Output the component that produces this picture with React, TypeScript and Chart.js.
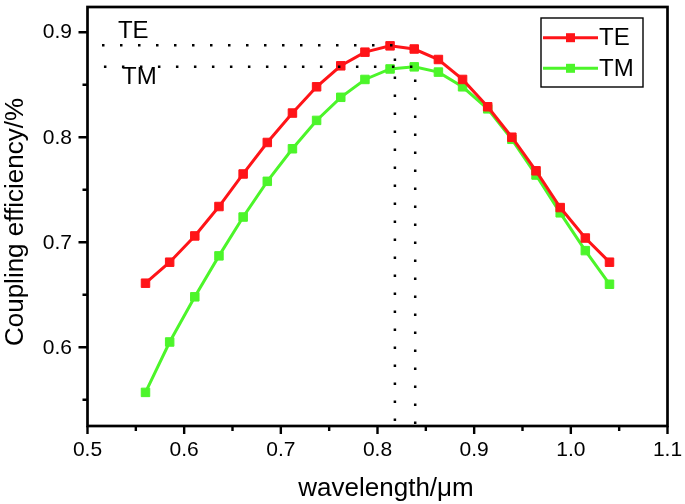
import React, { useEffect, useRef } from 'react';
import { Chart, registerables } from 'chart.js';

Chart.register(...registerables);

// ---- data ----
const wavelength = [0.560, 0.585, 0.611, 0.636, 0.661, 0.686, 0.712, 0.737, 0.762, 0.787, 0.813, 0.838, 0.863, 0.888, 0.914, 0.939, 0.964, 0.989, 1.015, 1.040];
const teEfficiency = [0.661, 0.681, 0.706, 0.734, 0.765, 0.795, 0.823, 0.848, 0.868, 0.881, 0.887, 0.884, 0.874, 0.855, 0.829, 0.800, 0.768, 0.733, 0.704, 0.681];
const tmEfficiency = [0.557, 0.605, 0.648, 0.687, 0.724, 0.758, 0.789, 0.816, 0.838, 0.855, 0.865, 0.867, 0.862, 0.848, 0.827, 0.798, 0.764, 0.728, 0.692, 0.660];
const seriesLabels = ['TE', 'TM'];
const seriesColors = ['#ff1418', '#4cf52a'];

// peak guide lines (TE, TM)
const peakWavelength = [0.818, 0.839];
const peakEfficiency = [0.8875, 0.867];
const guideStart = [0.515, 0.517];
// in-plot annotation labels (TE, TM)
const noteX = [0.5315, 0.5357];
const noteY = [0.9007, 0.8574];

const xMajorTicks = [0.5, 0.6, 0.7, 0.8, 0.9, 1.0, 1.1];
const xMinorTicks = [0.55, 0.65, 0.75, 0.85, 0.95, 1.05];
const yMajorTicks = [0.6, 0.7, 0.8, 0.9];
const yMinorTicks = [0.55, 0.65, 0.75, 0.85];
const xRange = [0.5, 1.1];
const yRange = [0.525, 0.924];
const xTitle = 'wavelength/μm';
const yTitle = 'Coupling efficiency/%';

const FONT = 'Arial, "Liberation Sans", sans-serif';

const decorPlugin = {
  id: 'decor',
  afterDraw(chart: any) {
    const { ctx, chartArea: a, scales } = chart;
    const xs = scales.x;
    const ys = scales.y;
    ctx.save();
    // frame
    ctx.strokeStyle = '#000';
    ctx.lineWidth = 2.7;
    ctx.strokeRect(a.left, a.top, a.right - a.left, a.bottom - a.top);
    // ticks
    ctx.lineWidth = 2.4;
    ctx.beginPath();
    xMajorTicks.forEach((v) => {
      const px = xs.getPixelForValue(v);
      ctx.moveTo(px, a.bottom);
      ctx.lineTo(px, a.bottom + 8);
    });
    xMinorTicks.forEach((v) => {
      const px = xs.getPixelForValue(v);
      ctx.moveTo(px, a.bottom);
      ctx.lineTo(px, a.bottom + 5);
    });
    yMajorTicks.forEach((v) => {
      const py = ys.getPixelForValue(v);
      ctx.moveTo(a.left, py);
      ctx.lineTo(a.left - 9, py);
    });
    yMinorTicks.forEach((v) => {
      const py = ys.getPixelForValue(v);
      ctx.moveTo(a.left, py);
      ctx.lineTo(a.left - 5, py);
    });
    ctx.stroke();

    // tick labels
    ctx.fillStyle = '#000';
    ctx.font = `21px ${FONT}`;
    ctx.textBaseline = 'middle';
    ctx.textAlign = 'center';
    xMajorTicks.forEach((v) => {
      ctx.fillText(v.toFixed(1), xs.getPixelForValue(v), a.bottom + 24.5);
    });
    ctx.textAlign = 'right';
    yMajorTicks.forEach((v) => {
      ctx.fillText(v.toFixed(1), a.left - 15.5, ys.getPixelForValue(v) + 0.5);
    });

    // in-plot labels
    ctx.font = `24px ${FONT}`;
    ctx.textAlign = 'left';
    ctx.textBaseline = 'middle';
    seriesLabels.forEach((lab, i) => {
      ctx.fillText(lab, xs.getPixelForValue(noteX[i]), ys.getPixelForValue(noteY[i]));
    });

    // legend
    const lx0 = 541, ly0 = 18, lx1 = 643, ly1 = 87;
    ctx.strokeStyle = '#000';
    ctx.lineWidth = 1.4;
    ctx.strokeRect(lx0, ly0, lx1 - lx0, ly1 - ly0);
    const rows = [37.7, 68.3];
    seriesLabels.forEach((lab, i) => {
      const y = rows[i];
      ctx.strokeStyle = seriesColors[i];
      ctx.lineWidth = 3;
      ctx.beginPath();
      ctx.moveTo(543, y);
      ctx.lineTo(598, y);
      ctx.stroke();
      ctx.fillStyle = seriesColors[i];
      ctx.fillRect(570.5 - 4.5, y - 4.5, 9, 9);
      ctx.fillStyle = '#000';
      ctx.font = `24px ${FONT}`;
      ctx.textAlign = 'left';
      ctx.textBaseline = 'middle';
      ctx.fillText(lab, 599, y + 1);
    });

    // axis titles
    ctx.fillStyle = '#000';
    ctx.font = `26px ${FONT}`;
    ctx.textAlign = 'center';
    ctx.textBaseline = 'middle';
    ctx.fillText(xTitle, 386, 489);
    ctx.save();
    ctx.translate(16, 222);
    ctx.rotate(-Math.PI / 2);
    ctx.fillText(yTitle, 0, 0);
    ctx.restore();

    ctx.restore();
  },
};

const zeroPad = (s: any) => {
  s.paddingTop = 0;
  s.paddingBottom = 0;
  s.paddingLeft = 0;
  s.paddingRight = 0;
};

export default function App() {
  const canvasRef = useRef<HTMLCanvasElement | null>(null);

  useEffect(() => {
    document.body.style.margin = '0';
    const canvas = canvasRef.current;
    if (!canvas) return;

    const guideDatasets = seriesLabels.map((lab, i) => ({
      label: `${lab} peak`,
      data: [
        { x: guideStart[i], y: peakEfficiency[i] },
        { x: peakWavelength[i], y: peakEfficiency[i] },
        { x: peakWavelength[i], y: yRange[0] },
      ],
      borderColor: '#000',
      borderWidth: 2.5,
      borderDash: [2.5, 15.5],
      borderCapStyle: 'butt',
      pointRadius: 0,
      fill: false,
      tension: 0,
      order: -1,
    }));

    const seriesDatasets = [teEfficiency, tmEfficiency].map((vals, i) => ({
      label: seriesLabels[i],
      data: wavelength.map((w, k) => ({ x: w, y: vals[k] })),
      borderColor: seriesColors[i],
      backgroundColor: seriesColors[i],
      borderWidth: 3,
      pointStyle: 'rect',
      pointRadius: 6,
      pointBackgroundColor: seriesColors[i],
      pointBorderColor: seriesColors[i],
      pointBorderWidth: 1,
      fill: false,
      tension: 0,
      order: 0,
    }));

    const chart = new Chart(canvas, {
      type: 'line',
      data: { datasets: [...seriesDatasets, ...guideDatasets] as any },
      options: {
        animation: false,
        responsive: true,
        maintainAspectRatio: false,
        layout: { padding: { top: 1.5, right: 17.5, left: 0, bottom: 0 } },
        plugins: {
          legend: { display: false },
          tooltip: { enabled: false },
        },
        scales: {
          x: {
            type: 'linear',
            min: xRange[0],
            max: xRange[1],
            grid: { display: false, drawTicks: false },
            border: { display: false },
            ticks: { display: false },
            afterBuildTicks: (s: any) => {
              s.ticks = xMajorTicks.map((v) => ({ value: v }));
            },
            afterFit: (s: any) => {
              s.height = 78;
              zeroPad(s);
            },
          },
          y: {
            type: 'linear',
            min: yRange[0],
            max: yRange[1],
            grid: { display: false, drawTicks: false },
            border: { display: false },
            ticks: { display: false },
            afterBuildTicks: (s: any) => {
              s.ticks = yMajorTicks.map((v) => ({ value: v }));
            },
            afterFit: (s: any) => {
              s.width = 87.5;
              zeroPad(s);
            },
          },
        },
      } as any,
      plugins: [decorPlugin],
    });

    return () => chart.destroy();
  }, []);

  return (
    <div style={{ position: 'relative', width: '685px', height: '504px', background: '#fff' }}>
      <canvas ref={canvasRef} />
    </div>
  );
}
